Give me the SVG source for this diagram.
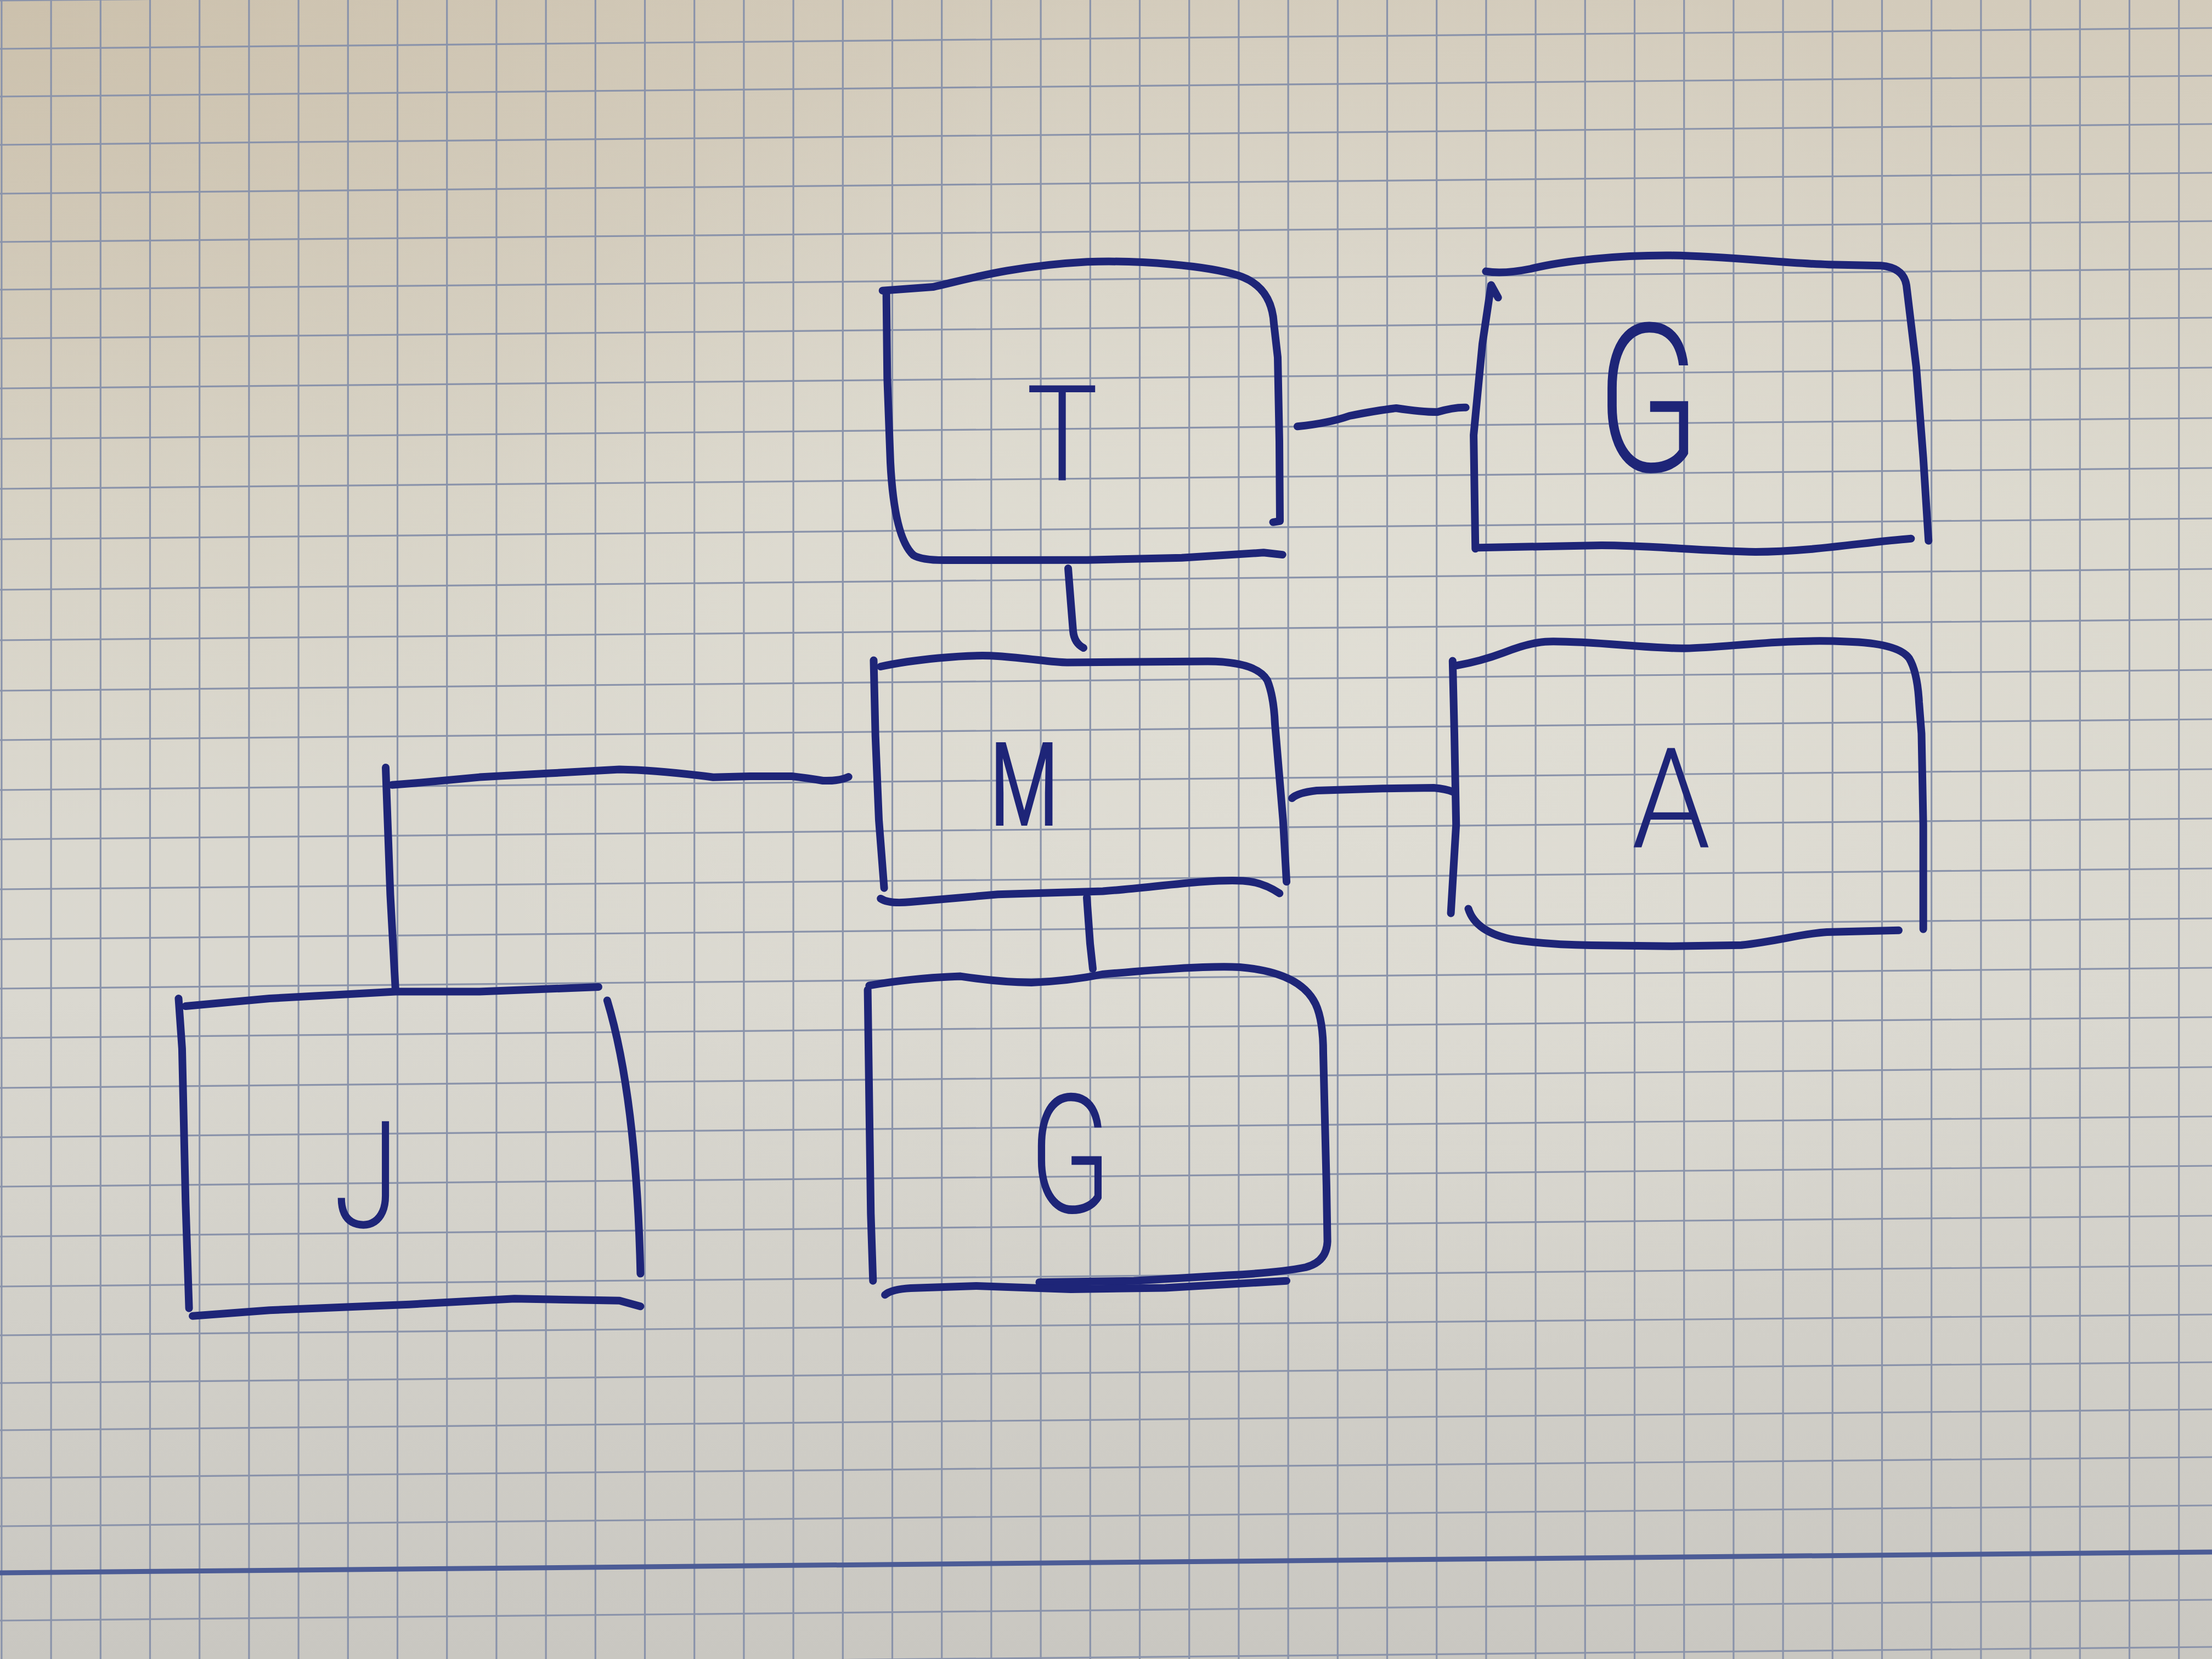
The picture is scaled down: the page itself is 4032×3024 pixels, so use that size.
<svg xmlns="http://www.w3.org/2000/svg" width="4032" height="3024" viewBox="0 0 4032 3024">
<defs>
<linearGradient id="paperV" x1="0" y1="0" x2="0" y2="1">
<stop offset="0" stop-color="#d3cbbb"/>
<stop offset="0.3" stop-color="#dbd8cd"/>
<stop offset="0.6" stop-color="#dad8d0"/>
<stop offset="1" stop-color="#c9c7c1"/>
</linearGradient>
<radialGradient id="warm" cx="0" cy="0" r="1" gradientUnits="userSpaceOnUse" gradientTransform="translate(0,0) scale(1900,1500)">
<stop offset="0" stop-color="#bfae92" stop-opacity="0.35"/>
<stop offset="1" stop-color="#bfae92" stop-opacity="0"/>
</radialGradient>
<radialGradient id="light" cx="0" cy="0" r="1" gradientUnits="userSpaceOnUse" gradientTransform="translate(2500,1200) scale(1700,1300)">
<stop offset="0" stop-color="#e4e2d9" stop-opacity="0.6"/>
<stop offset="1" stop-color="#e4e2d9" stop-opacity="0"/>
</radialGradient>
<style>
.grid line{stroke:#8a93aa;stroke-width:3.2}
.margin{stroke:#4c5c96;stroke-width:9;fill:none}
.pen{fill:none;stroke:#1e2578;stroke-width:14;stroke-linecap:round;stroke-linejoin:round}
.lbl{fill:#1e2578;font-family:Roboto,"Liberation Sans",sans-serif;font-weight:300;text-anchor:middle}
.reg{font-weight:400}
</style>
</defs>
<g id="paper">
<rect x="0" y="0" width="4032" height="3024" fill="url(#paperV)"/>
<rect x="0" y="0" width="4032" height="3024" fill="url(#warm)"/>
<rect x="0" y="0" width="4032" height="3024" fill="url(#light)"/>
<g class="grid">
<line x1="2.9" y1="0" x2="2.9" y2="3024"/><line x1="93.1" y1="0" x2="93.1" y2="3024"/><line x1="183.3" y1="0" x2="183.3" y2="3024"/><line x1="273.5" y1="0" x2="273.5" y2="3024"/><line x1="363.7" y1="0" x2="363.7" y2="3024"/><line x1="453.9" y1="0" x2="453.9" y2="3024"/><line x1="544.1" y1="0" x2="544.1" y2="3024"/><line x1="634.3" y1="0" x2="634.3" y2="3024"/><line x1="724.5" y1="0" x2="724.5" y2="3024"/><line x1="814.7" y1="0" x2="814.7" y2="3024"/><line x1="904.9" y1="0" x2="904.9" y2="3024"/><line x1="995.1" y1="0" x2="995.1" y2="3024"/><line x1="1085.3" y1="0" x2="1085.3" y2="3024"/><line x1="1175.5" y1="0" x2="1175.5" y2="3024"/><line x1="1265.7" y1="0" x2="1265.7" y2="3024"/><line x1="1355.9" y1="0" x2="1355.9" y2="3024"/><line x1="1446.1" y1="0" x2="1446.1" y2="3024"/><line x1="1536.3" y1="0" x2="1536.3" y2="3024"/><line x1="1626.5" y1="0" x2="1626.5" y2="3024"/><line x1="1716.7" y1="0" x2="1716.7" y2="3024"/><line x1="1806.9" y1="0" x2="1806.9" y2="3024"/><line x1="1897.1" y1="0" x2="1897.1" y2="3024"/><line x1="1987.3" y1="0" x2="1987.3" y2="3024"/><line x1="2077.5" y1="0" x2="2077.5" y2="3024"/><line x1="2167.7" y1="0" x2="2167.7" y2="3024"/><line x1="2257.9" y1="0" x2="2257.9" y2="3024"/><line x1="2348.1" y1="0" x2="2348.1" y2="3024"/><line x1="2438.3" y1="0" x2="2438.3" y2="3024"/><line x1="2528.5" y1="0" x2="2528.5" y2="3024"/><line x1="2618.7" y1="0" x2="2618.7" y2="3024"/><line x1="2708.9" y1="0" x2="2708.9" y2="3024"/><line x1="2799.1" y1="0" x2="2799.1" y2="3024"/><line x1="2889.3" y1="0" x2="2889.3" y2="3024"/><line x1="2979.5" y1="0" x2="2979.5" y2="3024"/><line x1="3069.7" y1="0" x2="3069.7" y2="3024"/><line x1="3159.9" y1="0" x2="3159.9" y2="3024"/><line x1="3250.1" y1="0" x2="3250.1" y2="3024"/><line x1="3340.3" y1="0" x2="3340.3" y2="3024"/><line x1="3430.5" y1="0" x2="3430.5" y2="3024"/><line x1="3520.7" y1="0" x2="3520.7" y2="3024"/><line x1="3610.9" y1="0" x2="3610.9" y2="3024"/><line x1="3701.1" y1="0" x2="3701.1" y2="3024"/><line x1="3791.3" y1="0" x2="3791.3" y2="3024"/><line x1="3881.5" y1="0" x2="3881.5" y2="3024"/><line x1="3971.7" y1="0" x2="3971.7" y2="3024"/>
<line x1="0" y1="1" x2="4032" y2="-37"/><line x1="0" y1="89" x2="4032" y2="51"/><line x1="0" y1="176" x2="4032" y2="138"/><line x1="0" y1="264" x2="4032" y2="226"/><line x1="0" y1="353" x2="4032" y2="315"/><line x1="0" y1="441" x2="4032" y2="403"/><line x1="0" y1="528" x2="4032" y2="490"/><line x1="0" y1="617" x2="4032" y2="579"/><line x1="0" y1="708" x2="4032" y2="670"/><line x1="0" y1="800" x2="4032" y2="762"/><line x1="0" y1="891" x2="4032" y2="853"/><line x1="0" y1="983" x2="4032" y2="945"/><line x1="0" y1="1075" x2="4032" y2="1037"/><line x1="0" y1="1167" x2="4032" y2="1129"/><line x1="0" y1="1259" x2="4032" y2="1221"/><line x1="0" y1="1349" x2="4032" y2="1311"/><line x1="0" y1="1440" x2="4032" y2="1402"/><line x1="0" y1="1530" x2="4032" y2="1492"/><line x1="0" y1="1621" x2="4032" y2="1583"/><line x1="0" y1="1712" x2="4032" y2="1674"/><line x1="0" y1="1802" x2="4032" y2="1764"/><line x1="0" y1="1892" x2="4032" y2="1854"/><line x1="0" y1="1983" x2="4032" y2="1945"/><line x1="0" y1="2073" x2="4032" y2="2035"/><line x1="0" y1="2163" x2="4032" y2="2125"/><line x1="0" y1="2254" x2="4032" y2="2216"/><line x1="0" y1="2345" x2="4032" y2="2307"/><line x1="0" y1="2434" x2="4032" y2="2396"/><line x1="0" y1="2521" x2="4032" y2="2483"/><line x1="0" y1="2607" x2="4032" y2="2569"/><line x1="0" y1="2694" x2="4032" y2="2656"/><line x1="0" y1="2782" x2="4032" y2="2744"/><line x1="0" y1="2954" x2="4032" y2="2916"/><line x1="0" y1="3040" x2="4032" y2="3002"/>
</g>
<line class="margin" x1="0" y1="2867" x2="4032" y2="2829"/>
</g>
<g id="connectors">
<path class="pen" d="M2365,777.3 Q2420,772 2460,758 Q2510,748 2545,744 Q2590,751 2620,751 Q2650,742 2671.7,742.7"/>
<path class="pen" d="M1947,1036 L1952,1100 L1956,1150 Q1958,1172 1975,1181"/>
<path class="pen" d="M2355,1455 Q2365,1445 2400,1441 L2520,1437.3 L2613.3,1436 Q2636,1438 2648.3,1443.3"/>
<path class="pen" d="M1546.7,1416 Q1530,1424 1500,1423 Q1470,1418 1443.3,1415 L1366.7,1415 L1300,1416.7 Q1200,1404 1129,1402.6 L1001.5,1409.6 L874,1416.6 L759.2,1427.2 L714.5,1430.7 M703,1399 L711.4,1630.6 L721,1806"/>
<path class="pen" d="M1981,1636 L1987,1720 L1992,1766"/>
</g>
<g id="node-T">
<path class="pen" d="M1608.7,529.7 L1700.5,523.1 C1760,510 1840,485 1981.8,477.2 C2080,474 2200,484 2257.3,502.1 Q2318,522 2322,590 L2329,651.4 L2332,804.4 L2333,949.9 L2320.5,951.8"/>
<path class="pen" d="M1615.6,532.7 L1617.3,689.6 L1623,842.7 Q1630,980 1665,1012 Q1680,1021 1720,1021 L1981.8,1020.7 L2154,1016.8 L2303.2,1007.3 L2337.7,1011.1"/>
<text class="lbl" transform="translate(1936,875) scale(0.9,1)" x="0" y="0" font-size="244">T</text>
</g>
<g id="node-G1">
<path class="pen" d="M2708.4,494.6 Q2740,500 2790,490 C2850,475 2950,465 3046.5,465.6 C3150,467 3250,480 3333.5,482.2 L3429.1,484.2 Q3470,488 3475,520 L3492.9,668.7 L3505.7,834.5 L3515.3,985.8"/>
<path class="pen" d="M2730.7,542.3 L2718,519.5 L2702,627.3 L2686.1,793.1 L2689.3,1000.3 M2695.7,998.2 L2918.9,994.1 C3000,994 3100,1004 3200,1006 C3300,1006 3400,988 3483.4,981.7"/>
<text class="lbl" transform="translate(3005,859) scale(0.73,1)" x="0" y="0" font-size="378">G</text>
</g>
<g id="node-M">
<path class="pen" d="M1592.5,1203.6 L1595.7,1341.4 L1602,1494.4 L1611.6,1618.8"/>
<path class="pen" d="M1605.2,1215 C1660,1203 1760,1192 1818.9,1195.9 C1880,1200 1920,1208 1946.5,1207.4 L2201.6,1205.5 Q2290,1206 2310,1240 Q2322,1270 2324,1320 L2338.7,1494.4 L2345.1,1607.3"/>
<path class="pen" d="M1605.2,1637.9 Q1620,1648 1660,1644 L1818.9,1630.3 L2010.2,1624.5 C2100,1618 2200,1602 2265.4,1605.4 Q2300,1607 2332.3,1628.4"/>
<text class="lbl reg" transform="translate(1867,1505) scale(0.68,1)" x="0" y="0" font-size="214">M</text>
</g>
<g id="node-A">
<path class="pen" d="M2647.8,1204.6 L2651,1337.3 L2654.2,1503.1 L2644.6,1664.7"/>
<path class="pen" d="M2656.1,1212.9 Q2700,1205 2740,1190 Q2790,1170 2823.2,1169.4 C2900,1168 3000,1182 3072,1181.8 C3150,1180 3250,1164 3365.4,1169.4 Q3460,1172 3480,1200 Q3495,1225 3498,1280 L3502.5,1337.3 L3505.7,1503.1 L3505.7,1693.7"/>
<path class="pen" d="M2676.5,1656.4 Q2690,1700 2760,1713 Q2820,1722 2900,1723 L3046.5,1724.8 L3174,1722.7 C3240,1716 3280,1702 3330,1699 L3461,1695.8"/>
<text class="lbl" transform="translate(3046,1545) scale(0.9,1)" x="0" y="0" font-size="255">A</text>
</g>
<g id="node-J">
<path class="pen" d="M338.3,1834 L491.3,1820 L721,1807.4 L874,1807.4 L1090.9,1799"/>
<path class="pen" d="M325.5,1820 L331.9,1911.2 L338.3,2191.8 L344.6,2384.7"/>
<path class="pen" d="M351,2398.7 L491.3,2388.2 L746.5,2377.7 L937.8,2367.2 L1129.1,2370.7 L1167.4,2381.2"/>
<path class="pen" d="M1106.8,1823.5 Q1160,2000 1167.4,2321.6"/>
<text class="lbl" transform="translate(668,2237) scale(0.8,1)" x="0" y="0" font-size="272">J</text>
</g>
<g id="node-G2">
<path class="pen" d="M1584.4,1796.4 Q1660,1783 1750.9,1779.6 Q1820,1790 1880,1791 Q1950,1788 2009.2,1776 C2100,1768 2200,1760 2260,1763 Q2370,1772 2398,1830 Q2412,1860 2412,1920 L2417.9,2161.2 L2419.6,2263.3 Q2418,2300 2380,2310 Q2330,2320 2238.8,2324.5 L2066.6,2334.7 L1894.4,2337.2"/>
<path class="pen" d="M1581.6,1804.1 L1584.4,2008.2 L1587.3,2212.2 L1591.3,2334.7"/>
<path class="pen" d="M1613.1,2360.2 Q1625,2350 1660,2348 L1779.6,2343.9 L1951.8,2350 L2124,2347.5 L2345,2334.7"/>
<text class="lbl" transform="translate(1951,2210) scale(0.72,1)" x="0" y="0" font-size="303">G</text>
</g>
</svg>
